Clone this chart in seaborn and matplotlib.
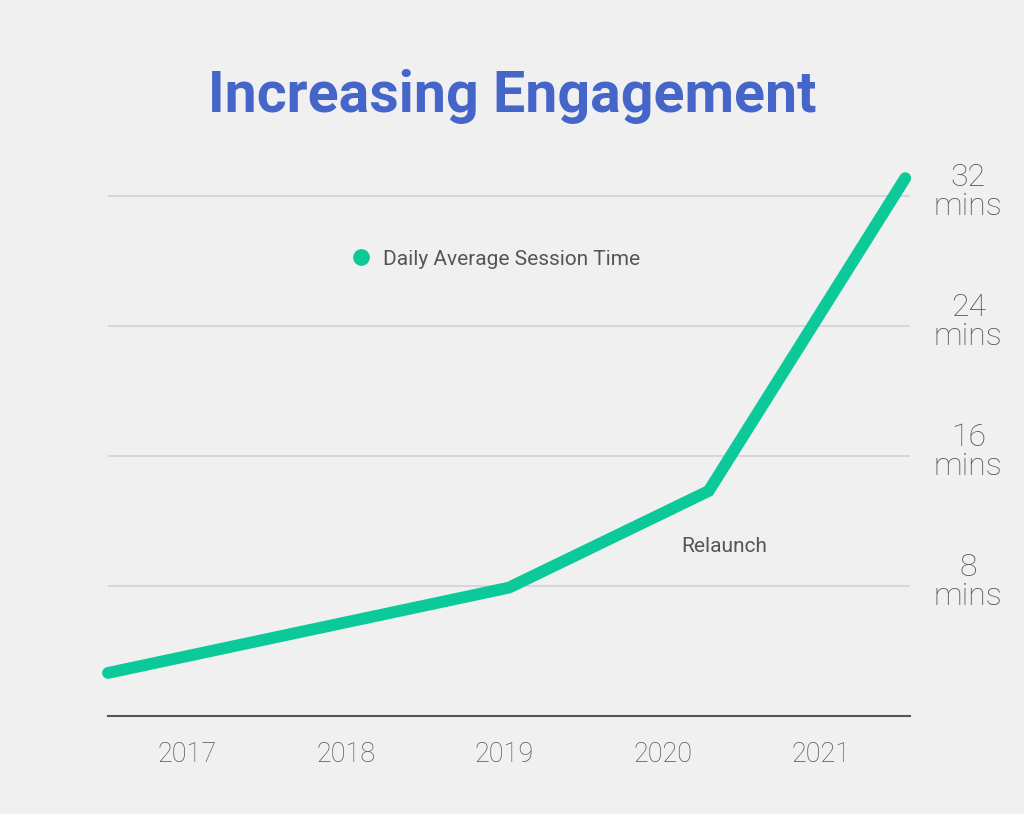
import matplotlib
matplotlib.use('Agg')
import matplotlib.pyplot as plt
import matplotlib.transforms as mtransforms
from matplotlib.lines import Line2D
import seaborn as sns
import pandas as pd

# data
years = [2016.5, 2019.03, 2020.29, 2021.53]
session_mins = [2.65, 7.9, 13.85, 33.1]
year_ticks = [2017, 2018, 2019, 2020, 2021]
min_ticks = [8, 16, 24, 32]
min_labels = ['8\nmins', '16\nmins', '24\nmins', '32\nmins']

teal = '#0bc999'
title_blue = '#4565c9'
grey_text = '#555555'

sns.set_style('white')
plt.rcParams['font.family'] = ['Roboto', 'DejaVu Sans']

df = pd.DataFrame({'Year': years, 'Minutes': session_mins})

fig = plt.figure(figsize=(10.24, 8.14), dpi=100)
fig.patch.set_facecolor('#f0f0f1')
ax = fig.add_axes([108 / 1024, 1 - 716 / 814, 802 / 1024, (716 - 163.5) / 814])
ax.set_facecolor('none')

sns.lineplot(data=df, x='Year', y='Minutes', color=teal, linewidth=8.5,
             solid_capstyle='round', solid_joinstyle='miter', ax=ax, clip_on=False,
             zorder=3)

ax.set_xlim(2016.5, 2021.56)
ax.set_ylim(0, 34)

ax.set_xticks(year_ticks)
ax.set_xticklabels([str(y) for y in year_ticks], fontsize=19.5, color=grey_text,
                   fontweight='light')
ax.tick_params(axis='x', length=0, pad=18)

ax.yaxis.tick_right()
ax.set_yticks(min_ticks)
ax.set_yticklabels(min_labels, fontsize=23, color=grey_text, fontweight='light',
                   ha='center', va='center', linespacing=0.97)
ax.tick_params(axis='y', length=0, pad=42)
# nudge the two-line labels up a little
shift = mtransforms.ScaledTranslation(0, 4 / 100, fig.dpi_scale_trans)
for lab in ax.get_yticklabels():
    lab.set_transform(lab.get_transform() + shift)

ax.grid(axis='y', color='#cfcfcf', linewidth=1.1)
ax.grid(axis='x', visible=False)
for side in ['top', 'left', 'right']:
    ax.spines[side].set_visible(False)
ax.spines['bottom'].set_color('#555555')
ax.spines['bottom'].set_linewidth(1.5)
ax.set_xlabel('')
ax.set_ylabel('')

handle = Line2D([], [], marker='o', linestyle='', color=teal, markersize=11)
ax.legend([handle], ['Daily Average Session Time'], loc='center left',
          bbox_to_anchor=(0.277, 0.827), frameon=False, fontsize=15,
          labelcolor='#555555', handletextpad=0.05, borderpad=0)

ax.text(2020.39, 10.4, 'Relaunch', fontsize=15, color='#555555', ha='center', va='center')

fig.text(0.5, 1 - 97 / 814, 'Increasing Engagement', fontsize=41.2, fontweight='bold',
         color=title_blue, ha='center', va='center')

fig.savefig('out.png', dpi=100, facecolor=fig.get_facecolor())
plt.close(fig)
